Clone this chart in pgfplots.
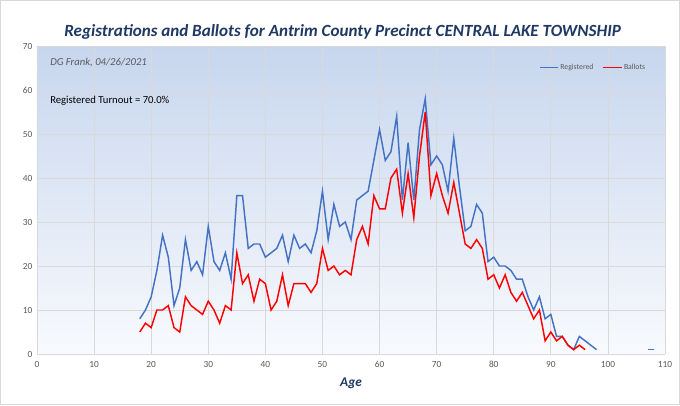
\documentclass[border=0pt]{standalone}
\usepackage{pgfplots}
\pgfplotsset{compat=1.18}
\usepackage{fontspec}
\setmainfont{Carlito}
\definecolor{regblue}{RGB}{68,114,196}
\definecolor{balred}{RGB}{255,0,0}
\definecolor{titleblue}{RGB}{31,56,100}
\definecolor{tickgray}{RGB}{89,89,89}
\definecolor{gridgray}{RGB}{217,217,217}
\definecolor{bgtop}{RGB}{199,214,238}
\definecolor{bgbot}{RGB}{248,250,253}
\begin{document}
\begin{tikzpicture}[x=1pt,y=1pt]
\fill[white] (0,0) rectangle (510,303.75);
\draw[gridgray, line width=0.8pt] (0.6,0.6) rectangle (509.4,303.15);
\node[font=\fontsize{12.8}{15}\selectfont\bfseries\itshape, text=titleblue] at (257,279.5) {Registrations and Ballots for Antrim County Precinct CENTRAL LAKE TOWNSHIP};
\begin{axis}[
  at={(27.75pt,38.25pt)}, anchor=south west,
  scale only axis, width=471pt, height=231pt,
  xmin=0, xmax=110, ymin=0, ymax=70,
  xtick={0,10,...,110}, ytick={0,10,...,70},
  grid=major, major grid style={gridgray, line width=0.5pt},
  axis line style={draw=gridgray, line width=0.5pt},
  axis x line*=bottom, axis y line*=left,
  tick style={draw=none},
  axis background/.style={top color=bgtop, bottom color=bgbot},
  ticklabel style={font=\fontsize{7}{8}\selectfont, text=tickgray},
  xticklabel style={yshift=-2pt},
  /pgf/number format/assume math mode=true,
  xlabel={Age},
  xlabel style={font=\fontsize{10}{12}\selectfont\bfseries\itshape, text=titleblue, yshift=-1pt},
  legend style={draw=none, fill=none, at={(0.971,0.929)}, anchor=east, font=\fontsize{5.8}{6}\selectfont, text=tickgray, inner xsep=0pt, /tikz/every even column/.append style={column sep=6pt}, nodes={inner xsep=1pt}},
  legend columns=2,
  legend image code/.code={\draw[#1, line width=0.9pt] (0pt,0pt) -- (14pt,0pt);},
  clip=false,
]
\addplot[regblue, line width=1.1pt] coordinates {
(18,8)(19,10)(20,13)(21,19)(22,27)(23,22)(24,11)(25,15)(26,26)(27,19)
(28,21)(29,18)(30,29)(31,21)(32,19)(33,23)(34,17)(35,36)(36,36)(37,24)
(38,25)(39,25)(40,22)(41,23)(42,24)(43,27)(44,21)(45,27)(46,24)(47,25)
(48,23)(49,28)(50,37)(51,26)(52,34)(53,29)(54,30)(55,26)(56,35)(57,36)
(58,37)(59,44)(60,51)(61,44)(62,46)(63,54)(64,35)(65,48)(66,35)(67,51)
(68,58)(69,43)(70,45)(71,43)(72,37)(73,49)(74,38)(75,28)(76,29)(77,34)
(78,32)(79,21)(80,22)(81,20)(82,20)(83,19)(84,17)(85,17)(86,13)(87,10)
(88,13)(89,8)(90,9)(91,4)(92,4)(93,2)(94,1)(95,4)(96,3)(97,2)(98,1)
};
\addlegendentry{Registered}
\addplot[balred, line width=1.1pt] coordinates {
(18,5)(19,7)(20,6)(21,10)(22,10)(23,11)(24,6)(25,5)(26,13)(27,11)
(28,10)(29,9)(30,12)(31,10)(32,7)(33,11)(34,10)(35,23)(36,16)(37,18)
(38,12)(39,17)(40,16)(41,10)(42,12)(43,18)(44,11)(45,16)(46,16)(47,16)
(48,14)(49,16)(50,24)(51,19)(52,20)(53,18)(54,19)(55,18)(56,26)(57,29)
(58,25)(59,36)(60,33)(61,33)(62,40)(63,42)(64,32)(65,41)(66,31)(67,45)
(68,55)(69,36)(70,41)(71,36)(72,32)(73,39)(74,32)(75,25)(76,24)(77,26)
(78,24)(79,17)(80,18)(81,15)(82,18)(83,14)(84,12)(85,14)(86,11)(87,8)
(88,10)(89,3)(90,5)(91,3)(92,4)(93,2)(94,1)(95,2)(96,1)
};
\addlegendentry{Ballots}
\addplot[regblue, line width=1.1pt, forget plot] coordinates {(107,1)(108,1)};
\node[anchor=west, font=\fontsize{8}{10}\selectfont\itshape, text=tickgray] at (axis cs:1.5,66.3) {DG Frank, 04/26/2021};
\node[anchor=west, font=\fontsize{8}{10}\selectfont, text=black] at (axis cs:1.5,57.5) {Registered Turnout = 70.0\%};
\end{axis}
\end{tikzpicture}
\end{document}
